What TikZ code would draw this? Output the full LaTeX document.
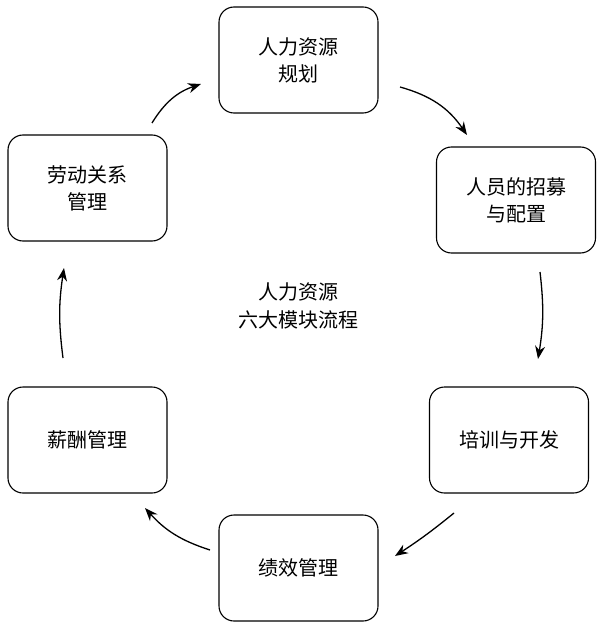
\documentclass[tikz,border=0pt]{standalone}
\usepackage{fontspec}
\setmainfont{Noto Sans CJK SC}
\usetikzlibrary{arrows.meta, positioning}

\begin{document}
\begin{tikzpicture}[x=1pt, y=-1pt,
    module/.style={rectangle, draw, line width=1.1pt, rounded corners=15pt, minimum width=159pt, minimum height=106pt, align=center, font=\fontsize{20}{27}\selectfont},
    arrow/.style={-{Stealth[length=13pt, width=10pt]}, line width=1.3pt}
]
\useasboundingbox (0,0) rectangle (601,628);

\node[module] (plan) at (298.5,60) {人力资源\\规划};
\node[module] (recruit) at (516,200) {人员的招募\\与配置};
\node[module] (train) at (509,440) {培训与开发};
\node[module] (perf) at (298.5,568) {绩效管理};
\node[module] (pay) at (87.5,440) {薪酬管理};
\node[module] (labor) at (87.5,188) {劳动关系\\管理};
\node[align=center, font=\fontsize{20}{28}\selectfont] (title) at (298,306) {人力资源\\六大模块流程};

% arrow ends
\coordinate (a1) at (152,123);
\coordinate (b1) at (201,84);
\coordinate (a2) at (400,87);
\coordinate (b2) at (467,135);
\coordinate (a3) at (540,272);
\coordinate (b3) at (538,359);
\coordinate (a4) at (454,513);
\coordinate (b4) at (395,556);
\coordinate (a5) at (210,550);
\coordinate (b5) at (145,508);
\coordinate (a6) at (63,358);
\coordinate (b6) at (64,268);

\draw[arrow] (a1) to[bend left=20] (b1);
\draw[arrow] (a2) to[bend left=20] (b2);
\draw[arrow] (a3) to[bend left=8] (b3);
\draw[arrow] (a4) to[bend left=3] (b4);
\draw[arrow] (a5) to[bend left=15] (b5);
\draw[arrow] (a6) to[bend left=8] (b6);
\end{tikzpicture}
\end{document}
